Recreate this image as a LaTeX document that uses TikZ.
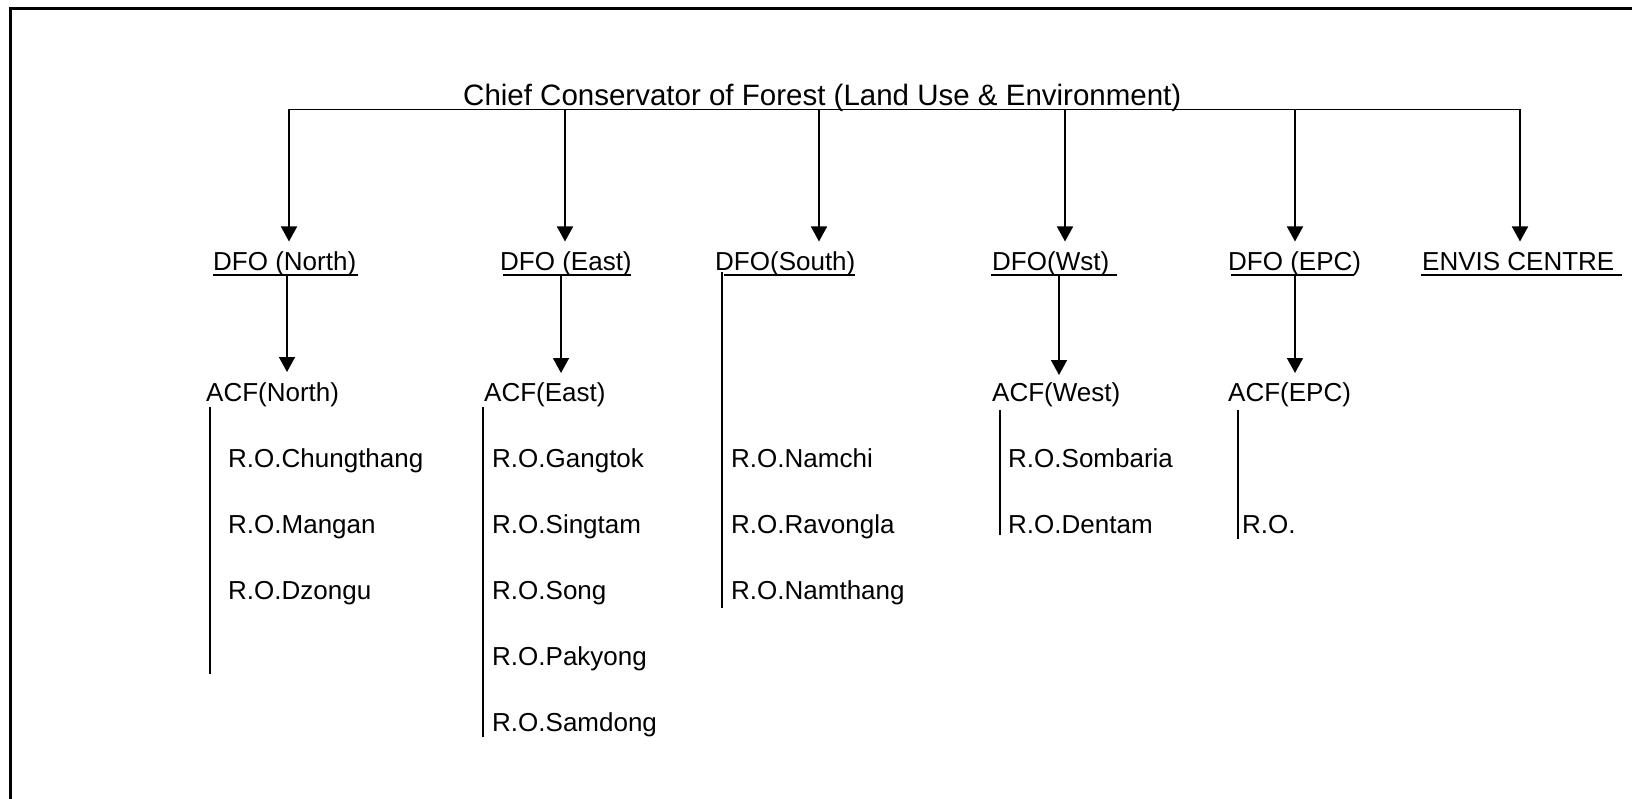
\documentclass[tikz,border=0pt]{standalone}
\usepackage{fontspec}
\setmainfont{Liberation Sans}
\usetikzlibrary{arrows.meta}
\begin{document}
\begin{tikzpicture}[x=1pt,y=-1pt,
  lbl/.style={anchor=base west, inner sep=0pt, font=\fontsize{26}{31}\selectfont},
  ttl/.style={anchor=base west, inner sep=0pt, font=\fontsize{29.5}{35}\selectfont},
  conn/.style={line width=1.7pt},
  arr/.style={conn, -{Triangle[length=15pt,width=16pt]}},
  uline/.style={line width=1.7pt},
  frameline/.style={line width=3pt}]
\useasboundingbox (0,0) rectangle (1632,799);
% frame (only left and top edges visible)
\draw[frameline] (10.5,799) -- (10.5,8.5) -- (1632,8.5);

% title
\node[ttl] (chief) at (463,105.5) {Chief Conservator of Forest (Land Use \& Environment)};

% DFO row
\node[lbl] (dfoN) at (213,270.5) {DFO (North)};
\node[lbl] (dfoE) at (500,270.5) {DFO (East)};
\node[lbl] (dfoS) at (715,270.5) {DFO(South)};
\node[lbl] (dfoW) at (992,270.5) {DFO(Wst)};
\node[lbl] (dfoP) at (1228,270.5) {DFO (EPC)};
\node[lbl] (envis) at (1422,270.5) {ENVIS CENTRE};

% underlines
\draw[uline] (213,275) -- (358,275);
\draw[uline] (503,275) -- (631,275);
\draw[uline] (724,275) -- (855,275);
\draw[uline] (991,275) -- (1117,275);
\draw[uline] (1231,275) -- (1354,275);
\draw[uline] (1421,275) -- (1622,275);

% ACF row
\node[lbl] (acfN) at (206,401) {ACF(North)};
\node[lbl] (acfE) at (484,401) {ACF(East)};
\node[lbl] (acfW) at (992,401) {ACF(West)};
\node[lbl] (acfP) at (1228,401) {ACF(EPC)};

% R.O. rows
\node[lbl] (roN1) at (228,467) {R.O.Chungthang};
\node[lbl] (roN2) at (228,533) {R.O.Mangan};
\node[lbl] (roN3) at (228,599) {R.O.Dzongu};

\node[lbl] (roE1) at (492,467) {R.O.Gangtok};
\node[lbl] (roE2) at (492,533) {R.O.Singtam};
\node[lbl] (roE3) at (492,599) {R.O.Song};
\node[lbl] (roE4) at (492,665) {R.O.Pakyong};
\node[lbl] (roE5) at (492,731) {R.O.Samdong};

\node[lbl] (roS1) at (731,467) {R.O.Namchi};
\node[lbl] (roS2) at (731,533) {R.O.Ravongla};
\node[lbl] (roS3) at (731,599) {R.O.Namthang};

\node[lbl] (roW1) at (1008,467) {R.O.Sombaria};
\node[lbl] (roW2) at (1008,533) {R.O.Dentam};

\node[lbl] (roP) at (1242,533) {R.O.};

% bus coordinates
\coordinate (bN) at (289,109.5);
\coordinate (bE) at (565,109.5);
\coordinate (bS) at (819,109.5);
\coordinate (bW) at (1065,109.5);
\coordinate (bP) at (1295,109.5);
\coordinate (bV) at (1520,109.5);
\coordinate (tN) at (289,241.5);
\coordinate (tE) at (565,241.5);
\coordinate (tS) at (819,241.5);
\coordinate (tW) at (1065,241.5);
\coordinate (tP) at (1295,241.5);
\coordinate (tV) at (1520,241.5);

\draw[conn] (bN) -- (bV);
\draw[arr] (bN) -- (tN);
\draw[arr] (bE) -- (tE);
\draw[arr] (bS) -- (tS);
\draw[arr] (bW) -- (tW);
\draw[arr] (bP) -- (tP);
\draw[arr] (bV) -- (tV);

% DFO -> ACF
\coordinate (dN) at (287,275);
\coordinate (aN) at (287,372);
\coordinate (dE) at (561,275);
\coordinate (aE) at (561,373);
\coordinate (dW) at (1059,275);
\coordinate (aW) at (1059,375);
\coordinate (dP) at (1295,275);
\coordinate (aP) at (1295,373);
\draw[arr] (dN) -- (aN);
\draw[arr] (dE) -- (aE);
\draw[arr] (dW) -- (aW);
\draw[arr] (dP) -- (aP);

% bracket lines
\coordinate (lN1) at (210,407);  \coordinate (lN2) at (210,674);
\coordinate (lE1) at (483,407);  \coordinate (lE2) at (483,737);
\coordinate (lS1) at (722,272);  \coordinate (lS2) at (722,608);
\coordinate (lW1) at (1000,410); \coordinate (lW2) at (1000,535);
\coordinate (lP1) at (1238,410); \coordinate (lP2) at (1238,539);
\draw[conn] (lN1) -- (lN2);
\draw[conn] (lE1) -- (lE2);
\draw[conn] (lS1) -- (lS2);
\draw[conn] (lW1) -- (lW2);
\draw[conn] (lP1) -- (lP2);
\end{tikzpicture}
\end{document}
